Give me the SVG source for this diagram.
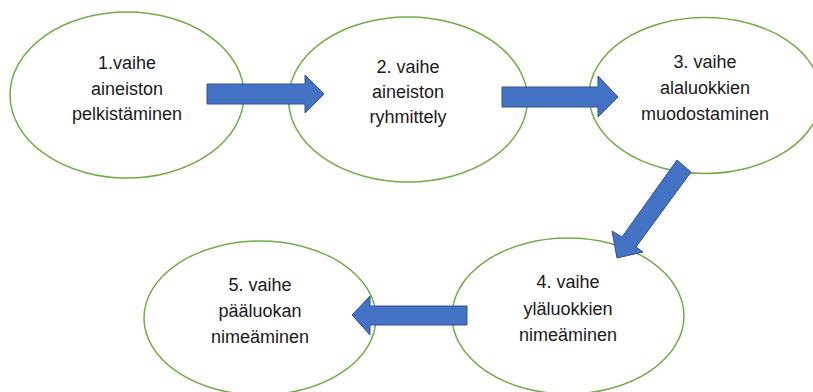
<svg xmlns="http://www.w3.org/2000/svg" width="813" height="392" viewBox="0 0 813 392">
  <style>
    .node ellipse { fill: #ffffff; stroke: #70AD47; stroke-width: 1.5; }
    .node text { font-family: "Liberation Sans", Arial, sans-serif; font-size: 18px; fill: #1a1a1a; text-anchor: middle; }
    .arrow { fill: #4472C4; stroke: #2F528F; stroke-width: 1; stroke-linejoin: miter; }
  </style>
  <rect width="813" height="392" fill="#ffffff"/>
  <g id="node1" class="node">
    <ellipse cx="127" cy="95" rx="117" ry="83"/>
    <text x="127" y="69">1.vaihe</text>
    <text x="127" y="95">aineiston</text>
    <text x="127" y="120">pelkistäminen</text>
  </g>
  <g id="node2" class="node">
    <ellipse cx="408" cy="99.5" rx="119.5" ry="82.5"/>
    <text x="408" y="73">2. vaihe</text>
    <text x="408" y="98">aineiston</text>
    <text x="408" y="123">ryhmittely</text>
  </g>
  <g id="node3" class="node">
    <ellipse cx="705" cy="95.5" rx="116" ry="78"/>
    <text x="705" y="68">3. vaihe</text>
    <text x="705" y="94">alaluokkien</text>
    <text x="705" y="120">muodostaminen</text>
  </g>
  <g id="node4" class="node">
    <ellipse cx="568" cy="316" rx="116" ry="78"/>
    <text x="568" y="288">4. vaihe</text>
    <text x="568" y="315">yläluokkien</text>
    <text x="568" y="341">nimeäminen</text>
  </g>
  <g id="node5" class="node">
    <ellipse cx="260" cy="318" rx="116" ry="77"/>
    <text x="260" y="291">5. vaihe</text>
    <text x="260" y="317">pääluokan</text>
    <text x="260" y="343">nimeäminen</text>
  </g>
  <g id="connectors">
    <polygon class="arrow" points="207,84 305,84 305,75 324,94 305,113 305,104 207,104"/>
    <polygon class="arrow" points="502,87 598,87 598,76 618,97 598,117 598,107 502,107"/>
    <polygon class="arrow" points="677,160 691,172 636,247 643,252 617,258 612,231 622,237"/>
    <polygon class="arrow" points="467,306 370,306 370,296 352,315 370,335 370,325 467,325"/>
  </g>
</svg>
